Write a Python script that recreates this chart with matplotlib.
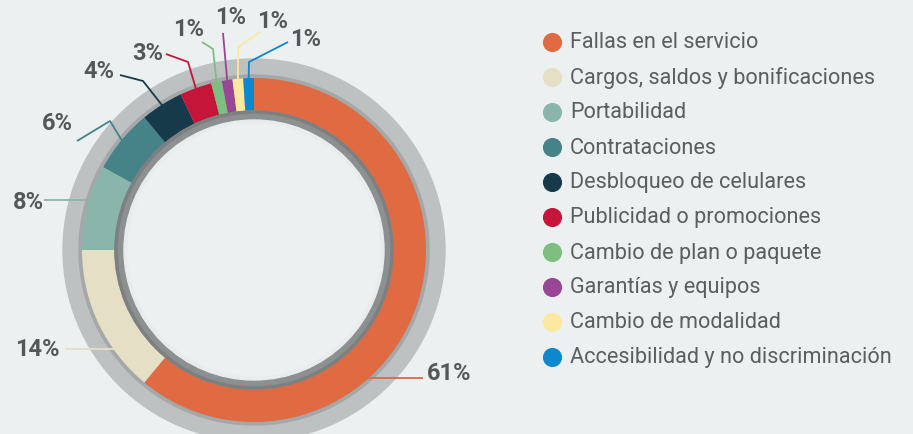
import numpy as np
import matplotlib.pyplot as plt
from matplotlib.patches import Circle, Wedge

categorias = ['Fallas en el servicio', 'Cargos, saldos y bonificaciones', 'Portabilidad',
              'Contrataciones', 'Desbloqueo de celulares', 'Publicidad o promociones',
              'Cambio de plan o paquete', 'Garantías y equipos', 'Cambio de modalidad',
              'Accesibilidad y no discriminación']
valores = [61, 14, 8, 6, 4, 3, 1, 1, 1, 1]
colores = ['#e06a41', '#e5dfc6', '#8ab5aa', '#458389', '#173a4a',
           '#c5163a', '#7cbf7f', '#9b4595', '#fde89f', '#0e88cc']

W, H = 913, 435
FONDO = '#ecf0f1'
GRIS_TEXTO = '#555859'

# layout (pixel coords, y from top)
CX, CY = 254, 251
# fraction inside each wedge where the leader line touches the ring
frac_ancla = [0.63, 0.30, 0.59, 0.5, 0.5, 0.5, 0.5, 0.5, 0.5, 0.5]
# text left x, text centre y, leader start x, elbow point (or None)
etiquetas = [
    (427, 374, 423, None),
    (15, 350, 65, None),
    (13, 203, 44, None),
    (42, 123, 77, (110, 122)),
    (83, 72, 120, (143, 82)),
    (132, 54, 166, (188, 63)),
    (173, 29, 202, (213, 50)),
    (215, 18, 223, None),
    (257, 21, 260, (238, 48)),
    (290, 39, 288, (249, 63)),
]
# the start y of the small leaders
inicio_y = [None, None, None, None, 76, 55, 43, 34, 33, 43]


def Y(y):
    return H - y


plt.rcParams['font.family'] = ['Roboto', 'DejaVu Sans']

fig = plt.figure(figsize=(W / 100, H / 100), dpi=100, facecolor=FONDO)
ax = fig.add_axes([0, 0, 1, 1])
ax.set_facecolor(FONDO)

c = (CX, Y(CY))
ax.add_patch(Circle(c, 191, color='#bdc1c2', zorder=0))
ax.add_patch(Circle(c, 175, color='#a4a8a9', zorder=0.5))

ax.pie(valores, colors=colores, startangle=90, counterclock=False,
       radius=172, center=c, wedgeprops=dict(width=33, linewidth=0))

# inner grey ring and inner disc
ax.add_patch(Wedge(c, 139, 0, 360, width=9, color='#8d9091', zorder=3))
ax.add_patch(Wedge(c, 139, 0, 360, width=2, color='#7d8081', zorder=3))
ax.add_patch(Circle(c, 130, color='#e9eced', zorder=3))
ax.add_patch(Circle(c, 126, color='#edf0f1', zorder=3))

# leader lines + percentages
acum = np.concatenate([[0], np.cumsum(valores)[:-1]])
for i, v in enumerate(valores):
    theta = 360 * (acum[i] + frac_ancla[i] * v) / 100
    phi = np.radians(90 - theta)
    ax_x = CX + 171 * np.cos(phi)
    ax_y = Y(CY) + 171 * np.sin(phi)
    tx, ty, sx, codo = etiquetas[i]
    sy = Y(inicio_y[i]) if inicio_y[i] is not None else ax_y
    xs, ys = [sx], [sy]
    if codo is not None:
        xs.append(codo[0])
        ys.append(Y(codo[1]))
    xs.append(ax_x)
    ys.append(ax_y)
    ax.plot(xs, ys, color=colores[i], lw=1.3, zorder=4, solid_capstyle='butt')
    ax.text(tx, Y(ty), f'{v}%', fontsize=17, fontweight='bold', color=GRIS_TEXTO,
            ha='left', va='center', zorder=5)

# legend
for i, nombre in enumerate(categorias):
    yy = Y(43 + 35.0 * i)
    ax.scatter([552], [yy], s=190, color=colores[i], zorder=5, linewidths=0)
    ax.text(570, yy, nombre, fontsize=15.6, color='#5b5d5e', ha='left', va='center', zorder=5)

ax.set_xlim(0, W)
ax.set_ylim(0, H)
ax.set_aspect('equal')
ax.axis('off')

fig.savefig('out.png', dpi=100, facecolor=FONDO)
